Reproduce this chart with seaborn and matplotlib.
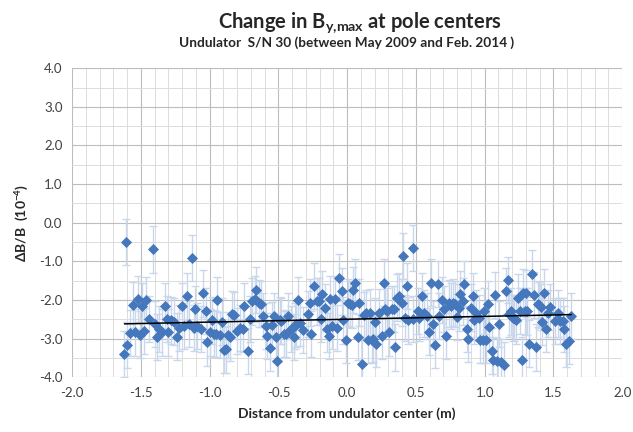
import matplotlib
matplotlib.use("Agg")
import matplotlib.pyplot as plt
import seaborn as sns
from matplotlib.ticker import MultipleLocator

# Pole positions (m) and change in By,max (1e-4)
pos_m = [
    -1.62, -1.61, -1.60, -1.58, -1.556, -1.54, -1.52, -1.51, -1.49, -1.48,
    -1.46, -1.44, -1.415, -1.40, -1.38, -1.37, -1.35, -1.325, -1.31, -1.30,
    -1.28, -1.26, -1.24, -1.22, -1.20, -1.185, -1.165, -1.15, -1.13, -1.115,
    -1.11, -1.09, -1.06, -1.05, -1.03, -1.017, -1.00, -0.985, -0.97, -0.955,
    -0.945, -0.925, -0.91, -0.895, -0.88, -0.865, -0.85, -0.835, -0.82, -0.80,
    -0.78, -0.76, -0.75, -0.72, -0.705, -0.69, -0.67, -0.66, -0.64, -0.625,
    -0.61, -0.59, -0.58, -0.56, -0.545, -0.53, -0.52, -0.51, -0.49, -0.48,
    -0.46, -0.445, -0.43, -0.41, -0.39, -0.38, -0.37, -0.355, -0.34, -0.32,
    -0.284, -0.267, -0.26, -0.243, -0.223, -0.204, -0.194, -0.18, -0.162, -0.15,
    -0.13, -0.126, -0.107, -0.09, -0.073, -0.06, -0.041, -0.029, -0.01, 0.003,
    0.02, 0.032, 0.044, 0.056, 0.075, 0.087, 0.104, 0.121, 0.136, 0.153,
    0.165, 0.177, 0.19, 0.201, 0.213, 0.233, 0.25, 0.27, 0.274, 0.291,
    0.306, 0.323, 0.34, 0.347, 0.364, 0.379, 0.396, 0.408, 0.42, 0.437,
    0.444, 0.476, 0.48, 0.512, 0.524, 0.544, 0.56, 0.578, 0.597, 0.61,
    0.626, 0.64, 0.658, 0.67, 0.69, 0.706, 0.718, 0.738, 0.755, 0.767,
    0.786, 0.796, 0.81, 0.82, 0.84, 0.852, 0.869, 0.88, 0.90, 0.913,
    0.925, 0.94, 0.956, 0.968, 0.985, 0.998, 1.01, 1.022, 1.034, 1.053,
    1.063, 1.078, 1.087, 1.107, 1.12, 1.143, 1.155, 1.167, 1.18, 1.19,
    1.204, 1.216, 1.228, 1.24, 1.257, 1.272, 1.28, 1.294, 1.298, 1.306,
    1.323, 1.342, 1.357, 1.371, 1.386, 1.396, 1.41, 1.42, 1.434, 1.444,
    1.46, 1.476, 1.51, 1.53, 1.547, 1.566, 1.58, 1.592, 1.61, 1.629,
]
dbb = [
    -3.40, -0.50, -3.17, -2.86, -2.13, -2.84, -1.97, -2.90, -2.16, -2.80,
    -2.00, -2.50, -0.69, -2.63, -2.96, -2.76, -2.84, -2.16, -2.50, -2.84,
    -2.53, -2.56, -2.95, -2.72, -2.16, -2.67, -1.91, -2.63, -0.91, -2.72,
    -2.24, -2.67, -2.76, -1.83, -2.28, -3.10, -2.84, -2.53, -2.87, -2.89,
    -2.01, -2.91, -2.56, -3.30, -3.28, -2.91, -2.97, -2.37, -2.40, -2.80,
    -2.73, -2.76, -2.16, -3.32, -2.50, -2.04, -1.98, -1.75, -2.09, -2.11,
    -2.41, -2.67, -2.93, -3.25, -2.65, -2.41, -2.96, -3.58, -2.53, -2.54,
    -2.89, -2.87, -2.41, -2.76, -2.96, -2.67, -2.63, -2.01, -2.59, -2.78,
    -2.37, -2.07, -2.89, -1.64, -2.04, -2.04, -2.50, -1.85, -2.20, -2.76,
    -2.93, -1.98, -2.67, -1.98, -2.72, -1.42, -1.78, -2.53, -3.04, -2.07,
    -2.11, -2.13, -1.75, -1.55, -2.96, -2.07, -3.65, -2.39, -2.35, -3.04,
    -2.33, -3.04, -3.02, -2.56, -3.15, -2.33, -2.93, -1.55, -2.24, -2.28,
    -2.84, -2.24, -2.24, -3.23, -1.94, -1.90, -2.07, -0.86, -2.46, -1.64,
    -2.53, -0.65, -2.50, -2.28, -2.47, -1.90, -2.35, -2.41, -2.82, -1.55,
    -2.63, -3.16, -1.59, -2.41, -2.01, -2.24, -2.93, -2.09, -2.16, -2.07,
    -2.11, -2.44, -2.20, -1.84, -2.04, -1.58, -2.76, -3.02, -2.20, -1.90,
    -2.53, -2.35, -2.46, -3.04, -3.04, -2.28, -3.04, -2.11, -2.70, -3.32,
    -3.55, -1.87, -3.58, -2.63, -3.62, -3.68, -1.77, -1.49, -2.37, -2.30,
    -2.46, -2.47, -2.53, -1.94, -2.28, -3.56, -1.81, -2.30, -1.83, -2.30,
    -3.13, -1.32, -1.87, -3.23, -2.11, -2.13, -2.18, -2.56, -1.81, -2.76,
    -2.35, -2.18, -2.54, -2.35, -2.54, -2.54, -2.76, -3.15, -3.06, -2.41,
]
err = 0.6  # size of the error bars

# linear trend line ends
trend_x = [-1.62, 1.63]
trend_y = [-2.62, -2.38]

x_ticks = [-2.0, -1.5, -1.0, -0.5, 0.0, 0.5, 1.0, 1.5, 2.0]
y_ticks = [-4.0, -3.0, -2.0, -1.0, 0.0, 1.0, 2.0, 3.0, 4.0]

sns.set_theme(style="white")
plt.rcParams["font.family"] = ["Lato", "DejaVu Sans"]
plt.rcParams["mathtext.fontset"] = "custom"
plt.rcParams["mathtext.bf"] = "Lato:bold"
plt.rcParams["mathtext.rm"] = "Lato:bold"
plt.rcParams["mathtext.default"] = "bf"

fig = plt.figure(figsize=(6.33, 4.32), dpi=100)
ax = fig.add_axes([0.114, 0.127, 0.869, 0.715])

ax.errorbar(pos_m, dbb, yerr=err, fmt="none", ecolor="#c8d7ec",
            elinewidth=1.0, capsize=3, capthick=1.0, zorder=2)
sns.scatterplot(x=pos_m, y=dbb, marker="D", s=32, color="#4577bd",
                linewidth=0, ax=ax, zorder=3)
sns.lineplot(x=trend_x, y=trend_y, color="black", linewidth=1.1, ax=ax, zorder=4)

ax.set_xlim(-2.0, 2.0)
ax.set_ylim(-4.0, 4.0)
ax.set_xticks(x_ticks, labels=[f"{t:.1f}" for t in x_ticks])
ax.set_yticks(y_ticks, labels=[f"{t:.1f}" for t in y_ticks])
ax.xaxis.set_minor_locator(MultipleLocator(0.1))
ax.yaxis.set_minor_locator(MultipleLocator(0.5))
ax.grid(which="major", color="#bdbdbd", linewidth=0.8)
ax.grid(which="minor", color="#dcdcdc", linewidth=0.7)
ax.set_axisbelow(True)
for s in ax.spines.values():
    s.set_visible(False)
ax.tick_params(which="major", length=4, width=0.8, color="#bdbdbd",
               labelsize=9.5, labelcolor="#404040", pad=3)
ax.tick_params(which="minor", length=0)

ax.set_xlabel("Distance from undulator center (m)", fontsize=10,
              fontweight="bold", color="#262626", labelpad=6)
ax.set_ylabel(r"ΔB/B  (10$^{-4}$)", fontsize=10, fontweight="bold",
              color="#262626", labelpad=6)

fig.text(0.568, 0.948, r"Change in B$_{y{,}max}$ at pole centers", ha="center",
         va="center", fontsize=14.5, fontweight="bold", color="#262626")
fig.text(0.548, 0.902, "Undulator  S/N 30 (between May 2009 and Feb. 2014 )",
         ha="center", va="center", fontsize=9.8, fontweight="bold", color="#262626")

fig.savefig("out.png", dpi=100)
